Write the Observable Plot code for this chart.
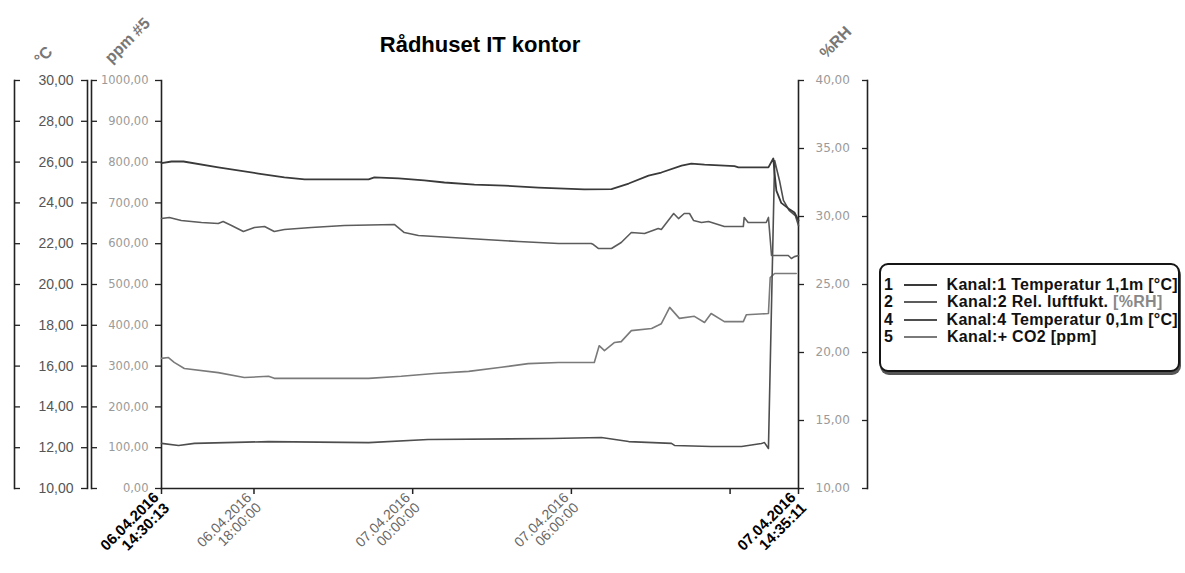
<!DOCTYPE html>
<html lang="no">
<head>
<meta charset="utf-8">
<script src="https://cdn.jsdelivr.net/npm/d3@7"></script>
<script src="https://cdn.jsdelivr.net/npm/@observablehq/plot@0.6"></script>
<style>
html,body{margin:0;padding:0;background:#fff;}
#wrap{position:relative;width:1185px;height:573px;overflow:hidden;background:#fff;}
#legend{position:absolute;left:879px;top:263px;width:301px;height:109px;box-sizing:border-box;border:2.5px solid #151515;border-radius:9px;box-shadow:1px 3px 0 #555;background:#fff;padding-top:11px;font:bold 16px "Liberation Sans",Arial,sans-serif;letter-spacing:0.3px;color:#111;}
.row{display:flex;align-items:center;height:17.5px;white-space:nowrap;}
.num{width:20px;padding-left:3px;}
.sw{display:inline-block;width:33px;height:0;border-top:2px solid #222;margin-right:10px;}
.dim{color:#888;}
</style>
</head>
<body>
<div id="wrap"></div>
<script>
// ---------- data ----------
const title = "Rådhuset IT kontor";
const xStart = "06.04 14:30:13";
const xEnd = "07.04 14:35:11";

// Kanal 1: Temperatur 1,1m [°C]
const t1 = ["06.04 14:30:13","06.04 14:53","06.04 15:20","06.04 16:39","06.04 18:10","06.04 19:09","06.04 19:55","06.04 22:20","06.04 22:33","06.04 23:28","07.04 00:26","07.04 01:12","07.04 02:20","07.04 03:28","07.04 04:45","07.04 06:29","07.04 07:31","07.04 08:10","07.04 08:55","07.04 09:24","07.04 10:10","07.04 10:32","07.04 11:02","07.04 12:10","07.04 12:19","07.04 13:27","07.04 13:38","07.04 13:41","07.04 13:45","07.04 13:56","07.04 14:12","07.04 14:26","07.04 14:35:11"];
const temp1 = [25.95,26.03,26.03,25.74,25.44,25.25,25.15,25.15,25.25,25.2,25.1,25.0,24.9,24.85,24.75,24.66,24.68,24.95,25.34,25.49,25.83,25.93,25.88,25.8,25.74,25.74,26.18,25.44,24.6,24.0,23.73,23.53,23.14];

// Kanal 2: Rel. luftfukt. [%RH]
const t2 = ["06.04 14:30:13","06.04 14:48","06.04 15:15","06.04 16:01","06.04 16:39","06.04 16:50","06.04 17:09","06.04 17:36","06.04 18:01","06.04 18:24","06.04 18:46","06.04 19:09","06.04 20:10","06.04 21:25","06.04 23:19","06.04 23:41","07.04 00:13","07.04 01:28","07.04 02:43","07.04 04:00","07.04 05:31","07.04 06:45","07.04 06:50","07.04 07:01","07.04 07:31","07.04 07:53","07.04 08:16","07.04 08:46","07.04 09:17","07.04 09:24","07.04 09:52","07.04 10:03","07.04 10:16","07.04 10:28","07.04 10:37","07.04 10:55","07.04 11:11","07.04 11:47","07.04 12:30","07.04 12:32","07.04 12:41","07.04 13:22","07.04 13:27","07.04 13:34","07.04 14:12","07.04 14:19","07.04 14:26","07.04 14:35:11"];
const rh = [29.85,29.93,29.71,29.56,29.49,29.63,29.34,28.9,29.19,29.26,28.9,29.04,29.19,29.34,29.41,28.82,28.6,28.46,28.31,28.16,28.01,28.01,27.94,27.65,27.65,28.09,28.82,28.75,29.12,29.04,30.22,29.85,30.22,30.22,29.71,29.56,29.63,29.26,29.26,29.93,29.56,29.56,29.93,27.13,27.13,26.91,27.05,27.13];

// Kanal 4: Temperatur 0,1m [°C]
const t4 = ["06.04 14:30:13","06.04 15:09","06.04 15:45","06.04 18:33","06.04 22:20","07.04 00:35","07.04 05:14","07.04 07:08","07.04 08:10","07.04 09:47","07.04 09:54","07.04 11:17","07.04 12:26","07.04 13:11","07.04 13:18","07.04 13:27","07.04 13:41","07.04 13:52","07.04 14:01","07.04 14:14","07.04 14:28","07.04 14:35:11"];
const temp4 = [12.21,12.11,12.21,12.30,12.25,12.40,12.45,12.5,12.30,12.21,12.11,12.06,12.06,12.21,12.25,11.96,26.08,25.1,24.12,23.63,23.38,22.89];

// Kanal 5: CO2 [ppm]
const t5 = ["06.04 14:30:13","06.04 14:46","06.04 14:59","06.04 15:22","06.04 16:39","06.04 17:38","06.04 18:33","06.04 18:46","06.04 22:20","06.04 23:34","07.04 00:49","07.04 02:07","07.04 03:21","07.04 04:22","07.04 05:31","07.04 06:52","07.04 07:03","07.04 07:15","07.04 07:38","07.04 07:53","07.04 08:16","07.04 09:02","07.04 09:17","07.04 09:24","07.04 09:43","07.04 10:05","07.04 10:39","07.04 11:02","07.04 11:17","07.04 11:47","07.04 12:30","07.04 12:37","07.04 13:27","07.04 13:31","07.04 13:41","07.04 14:30"];
const co2 = [319,321,309,294,284,272,275,270,270,275,282,287,297,306,309,309,350,338,358,360,387,392,400,404,444,417,422,407,429,409,409,426,429,517,527,527];

// axis ticks
const cTicks = [10,12,14,16,18,20,22,24,26,28,30];
const ppmTicks = [0,100,200,300,400,500,600,700,800,900,1000];
const rhTicks = [10,15,20,25,30,35,40];
const xBoldTicks = ["06.04 14:30:13","07.04 14:35:11"];
const xGrayTicks = ["06.04 18:00","07.04 00:00","07.04 06:00","07.04 12:00"];
const xUnlabeled = ["07.04 12:00"];

// unit labels
const unitC = "°C", unitPpm = "ppm #5", unitRH = "%RH";

// legend
const legendNums = ["1","2","4","5"];
const legendLabels = ["Kanal:1 Temperatur 1,1m [°C]","Kanal:2 Rel. luftfukt. [%RH]","Kanal:4 Temperatur 0,1m [°C]","Kanal:+ CO2 [ppm]"];
const seriesColors = ["#3a3a3a","#5c5c5c","#4e4e4e","#7a7a7a"];

// ---------- helpers ----------
const toDate = s => {
  const [dm, hms] = s.split(" ");
  const [dd, mm] = dm.split(".").map(Number);
  const [h, mi, se = 0] = hms.split(":").map(Number);
  return new Date(Date.UTC(2016, mm - 1, dd, h, mi, se));
};
const fmt2 = v => (Math.round(v * 100) / 100).toFixed(2).replace(".", ",");
const ppmToY = p => 10 + p / 50;          // ppm axis 0..1000 -> 10..30
const rhToY = r => 10 + (r - 10) * 2 / 3; // %RH axis 10..40 -> 10..30
const fmtX = d3.utcFormat("%d.%m.%Y\n%H:%M:%S");
const unlabeled = new Set(xUnlabeled.map(s => +toDate(s)));

const mk = (ts, vs, f) => ts.map((t, i) => ({t: toDate(t), v: f(vs[i])}));
const s1 = mk(t1, temp1, v => v);
const s2 = mk(t2, rh, rhToY);
const s4 = mk(t4, temp4, v => v);
const s5 = mk(t5, co2, ppmToY);

const AX = "#222";
const FF = '"Liberation Sans", Arial, sans-serif';
const lbl = {textAnchor: "middle", lineAnchor: "middle", text: d => d};

const plot = Plot.plot({
  width: 1185, height: 573,
  marginLeft: 161, marginRight: 387, marginTop: 80, marginBottom: 85,
  style: {fontFamily: FF, background: "#fff", overflow: "visible"},
  x: {type: "utc", domain: [toDate(xStart), toDate(xEnd)], label: null},
  y: {domain: [10, 30], label: null},
  marks: [
    // bracket / axis lines
    Plot.frame({anchor: "left", dx: -147, stroke: AX, strokeWidth: 1.6}),
    Plot.frame({anchor: "left", dx: -74, stroke: AX, strokeWidth: 1.6}),
    Plot.frame({anchor: "left", dx: -70, stroke: AX, strokeWidth: 1.6}),
    Plot.frame({anchor: "left", stroke: AX, strokeWidth: 1.6}),
    Plot.frame({anchor: "right", stroke: AX, strokeWidth: 1.6}),
    Plot.frame({anchor: "right", dx: 69, stroke: AX, strokeWidth: 1.6}),
    Plot.frame({anchor: "bottom", stroke: AX, strokeWidth: 1.6}),
    // °C axis
    Plot.axisY(cTicks, {anchor: "left", label: null, dx: -141, tickSize: 6, tickFormat: () => "", stroke: AX, strokeWidth: 1.3}),
    Plot.axisY(cTicks, {anchor: "left", label: null, dx: -74, tickSize: 6, tickPadding: 8, tickFormat: fmt2, stroke: AX, strokeWidth: 1.3, fill: "#555", fontSize: 14}),
    // ppm axis
    Plot.axisY(ppmTicks.map(ppmToY), {anchor: "left", label: null, dx: -64, tickSize: 6, tickFormat: () => "", stroke: AX, strokeWidth: 1.3}),
    Plot.axisY(ppmTicks.map(ppmToY), {anchor: "left", label: null, tickSize: 6, tickPadding: 7, tickFormat: d => fmt2((d - 10) * 50), stroke: AX, strokeWidth: 1.3, fill: "#9a9a9a", fontFamily: "DejaVu Sans", fontSize: 11.5}),
    // %RH axis
    Plot.axisY(rhTicks.map(rhToY), {anchor: "right", label: null, tickSize: 5, tickPadding: 12, tickFormat: d => fmt2(10 + (d - 10) * 1.5), stroke: AX, strokeWidth: 1.3, fill: "#9a9a9a", fontFamily: "DejaVu Sans", fontSize: 12}),
    Plot.axisY(rhTicks.map(rhToY), {anchor: "right", label: null, dx: 63, tickSize: 6, tickFormat: () => "", stroke: AX, strokeWidth: 1.3}),
    // time axis
    Plot.axisX(xGrayTicks.map(toDate), {label: null, tickRotate: -45, tickSize: 6, tickFormat: d => unlabeled.has(+d) ? "" : fmtX(d), stroke: AX, strokeWidth: 1.5, fill: "#666", fontSize: 14}),
    Plot.axisX(xBoldTicks.map(toDate), {label: null, tickRotate: -45, tickSize: 6, tickFormat: fmtX, stroke: AX, strokeWidth: 1.5, fill: "#000", fontWeight: "bold", fontSize: 15}),
    // series
    Plot.line(s5, {x: "t", y: "v", stroke: seriesColors[3], strokeWidth: 1.6}),
    Plot.line(s4, {x: "t", y: "v", stroke: seriesColors[2], strokeWidth: 1.6}),
    Plot.line(s2, {x: "t", y: "v", stroke: seriesColors[1], strokeWidth: 1.6}),
    Plot.line(s1, {x: "t", y: "v", stroke: seriesColors[0], strokeWidth: 1.8}),
    // titles
    Plot.text([title], {...lbl, frameAnchor: "top", dy: -36, fontSize: 22, fontWeight: "bold", fill: "#000"}),
    Plot.text([unitC], {...lbl, frameAnchor: "top-left", dx: -118, dy: -25, rotate: -45, fontSize: 16, fontWeight: "bold", fill: "#777"}),
    Plot.text([unitPpm], {...lbl, frameAnchor: "top-left", dx: -34, dy: -40, rotate: -45, fontSize: 16, fontWeight: "bold", fill: "#777"}),
    Plot.text([unitRH], {...lbl, frameAnchor: "top-right", dx: 37, dy: -38, rotate: -45, fontSize: 16, fontWeight: "bold", fill: "#777"})
  ]
});

const wrap = document.getElementById("wrap");
wrap.appendChild(plot);

// legend box
const legend = document.createElement("div");
legend.id = "legend";
legendNums.forEach((n, i) => {
  const row = document.createElement("div");
  row.className = "row";
  const num = document.createElement("span");
  num.className = "num"; num.textContent = n;
  const sw = document.createElement("span");
  sw.className = "sw"; sw.style.borderTopColor = seriesColors[i];
  const lab = document.createElement("span");
  const label = legendLabels[i];
  if (label.includes("[%RH]")) {
    lab.append(label.replace(" [%RH]", " "));
    const dim = document.createElement("span");
    dim.className = "dim"; dim.textContent = "[%RH]";
    lab.append(dim);
  } else {
    lab.textContent = label;
  }
  row.append(num, sw, lab);
  legend.appendChild(row);
});
wrap.appendChild(legend);
</script>
</body>
</html>
